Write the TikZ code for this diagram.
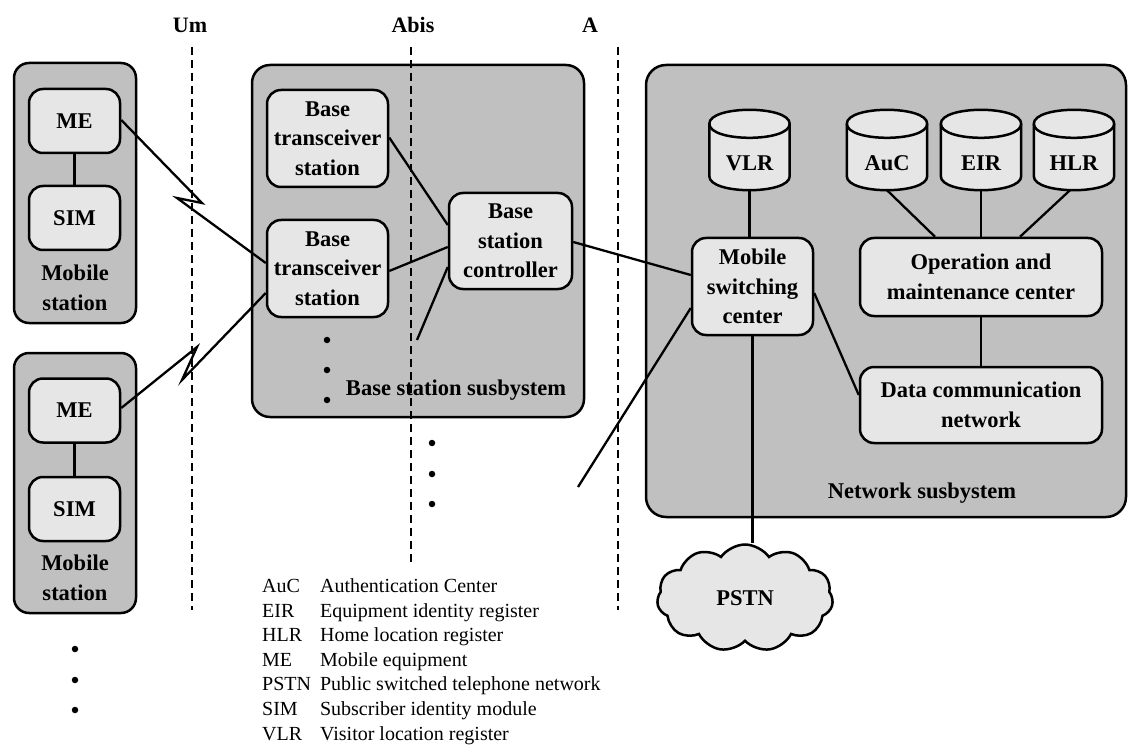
\documentclass[tikz,border=0pt]{standalone}
\usepackage{fontspec}
\setmainfont{Liberation Serif}
\usetikzlibrary{shapes.symbols,calc}
\definecolor{outerg}{RGB}{192,192,192}
\definecolor{innerg}{RGB}{230,230,230}
\newcommand\bxfont{\bfseries\fontsize{22.5}{29.5}\selectfont}
\newcommand\drawcyl[3]{%
  \node[minimum width=80pt, minimum height=80pt, inner sep=0] (#1) at (#2,150) {};
  \draw[cylst] ([yshift=-14pt]#1.north west) -- ([yshift=14pt]#1.south west)
     .. controls ([yshift=-4.67pt]#1.south west) and ([yshift=-4.67pt]#1.south east) .. ([yshift=14pt]#1.south east)
     -- ([yshift=-14pt]#1.north east)
     .. controls ([yshift=4.67pt]#1.north east) and ([yshift=4.67pt]#1.north west) .. cycle;
  \draw[cylst, fill=none] ([yshift=-14pt]#1.north west)
     .. controls ([yshift=-32.67pt]#1.north west) and ([yshift=-32.67pt]#1.north east) .. ([yshift=-14pt]#1.north east);
  \node[lbl] at ([yshift=-13pt]#1.center) {#3};
}
\begin{document}
\begin{tikzpicture}[x=1pt,y=-1pt,
  outer/.style={draw, line width=2.5pt, fill=outerg, rounded corners=17pt, inner sep=0},
  inner/.style={draw, line width=2.5pt, fill=innerg, rounded corners=14pt, inner sep=0, align=center, font=\bxfont},
  cylst/.style={draw, line width=2.5pt, fill=innerg},
  conn/.style={line width=2.3pt, line join=miter},
  iface/.style={line width=2.6pt, dash pattern=on 8pt off 5pt},
  lbl/.style={font=\bxfont, align=center, inner sep=0},
  toplbl/.style={font=\bfseries\fontsize{22}{26}\selectfont, inner sep=0},
  dot/.style={circle, fill=black, inner sep=0, minimum size=6.5pt}]
\useasboundingbox (0,0) rectangle (1129,751);

% ---- Mobile stations
\node[outer, minimum width=122pt, minimum height=260pt, rounded corners=15pt] (ms1) at (75,193) {};
\node[inner, minimum width=91pt, minimum height=64pt] (me1) at (74.5,121) {ME};
\node[inner, minimum width=91pt, minimum height=64pt] (sim1) at (74.5,218) {SIM};
\node[lbl] (ms1lab) at (75,288) {Mobile\\station};

\node[outer, minimum width=122pt, minimum height=260pt, rounded corners=15pt] (ms2) at (75,483) {};
\node[inner, minimum width=91pt, minimum height=64pt] (me2) at (74.5,410.5) {ME};
\node[inner, minimum width=91pt, minimum height=64pt] (sim2) at (74.5,509) {SIM};
\node[lbl] (ms2lab) at (75,578) {Mobile\\station};

\node[dot] (md1) at (75,649) {};
\node[dot] (md2) at (75,680) {};
\node[dot] (md3) at (75,710) {};

% ---- Base station subsystem
\node[outer, minimum width=332pt, minimum height=352pt, rounded corners=18pt] (bss) at (418,241) {};
\node[inner, minimum width=121pt, minimum height=97pt] (bts1) at (327.5,138.5) {Base\\transceiver\\station};
\node[inner, minimum width=121pt, minimum height=97pt] (bts2) at (327.5,268.5) {Base\\transceiver\\station};
\node[inner, minimum width=123pt, minimum height=96pt] (bsc) at (510.5,241) {Base\\station\\controller};
\node[lbl] (bsslab) at (456,390) {Base station susbystem};
\node[dot] (bd1) at (327,340) {};
\node[dot] (bd2) at (327,370) {};
\node[dot] (bd3) at (327,400) {};

% ---- Network subsystem
\node[outer, minimum width=480pt, minimum height=452pt, rounded corners=20pt] (nss) at (886,291) {};
\node[inner, minimum width=121pt, minimum height=97pt] (msc) at (752.5,286.5) {Mobile\\switching\\center};
\node[inner, minimum width=242pt, minimum height=78pt] (omc) at (981,277) {Operation and\\maintenance center};
\node[inner, minimum width=242pt, minimum height=76pt] (dcn) at (981,405) {Data communication\\network};
\node[lbl] (nsslab) at (922,493) {Network susbystem};
\drawcyl{vlr}{749.5}{VLR}
\drawcyl{auc}{887}{AuC}
\drawcyl{eir}{981}{EIR}
\drawcyl{hlr}{1074}{HLR}

% ---- PSTN
\node[cloud, draw, line width=2.5pt, fill=innerg, cloud puffs=11, cloud puff arc=110, aspect=1.65,
      minimum width=176pt, minimum height=107pt, inner sep=0, font=\bxfont] (pstn) at (745,598) {PSTN};

% ---- interfaces
\node[toplbl] (um) at (190,25) {Um};
\node[toplbl] (abis) at (413,25) {Abis};
\node[toplbl] (alab) at (590,25) {A};
\draw[iface] (192,47) -- (192,610);
\draw[iface] (411,47) -- (411,565);
\draw[iface] (618,47) -- (618,610);

\node[dot] (ad1) at (432,443) {};
\node[dot] (ad2) at (432,474) {};
\node[dot] (ad3) at (432,504) {};

% ---- connectors
\coordinate (b1a) at (202,203);
\coordinate (b1b) at (177,198);
\coordinate (b2a) at (197,347);
\coordinate (b2b) at (182,380);
\coordinate (bscfree) at (417,340);
\coordinate (mscfree) at (578,487);

\draw[conn] (me1) -- (sim1);
\draw[conn] (me2) -- (sim2);
\draw[conn] ([yshift=1pt]me1.east) -- (b1a) -- (b1b) -- ([yshift=5.5pt]bts2.west);
\draw[conn] ([yshift=2.5pt]me2.east) -- (b2a) -- (b2b) -- ([yshift=-24.5pt]bts2.west);
\draw[conn] ([yshift=1pt]bts1.east) -- ([yshift=16pt]bsc.west);
\draw[conn] ([yshift=-2.5pt]bts2.east) -- ([yshift=-6pt]bsc.west);
\draw[conn] ([yshift=-26pt]bsc.west) -- (bscfree);
\draw[conn] ([yshift=-1pt]bsc.east) -- ([yshift=11.5pt]msc.west);
\draw[conn] ([yshift=-21.5pt]msc.west) -- (mscfree);
\draw[conn] ([yshift=-6.5pt]msc.east) -- ([yshift=10pt]dcn.west);
\draw[conn] (vlr.south) -- (vlr.south |- msc.north);
\draw[conn] (auc.south) -- ([xshift=-46pt]omc.north);
\draw[conn] (eir.south) -- (omc.north);
\draw[conn] ([xshift=-4pt]hlr.south) -- ([xshift=39pt]omc.north);
\draw[conn] (omc.south) -- (dcn.north);
\draw[conn] (msc.south) -- (msc.south |- pstn.north);

% ---- legend
\node[anchor=north west, inner sep=0, font=\fontsize{20}{24.6}\selectfont] (legend) at (262,575) {%
\begin{tabular}{@{}l@{\hspace{9pt}}l@{}}
AuC & Authentication Center\\
EIR & Equipment identity register\\
HLR & Home location register\\
ME & Mobile equipment\\
PSTN & Public switched telephone network\\
SIM & Subscriber identity module\\
VLR & Visitor location register
\end{tabular}};
\end{tikzpicture}
\end{document}
